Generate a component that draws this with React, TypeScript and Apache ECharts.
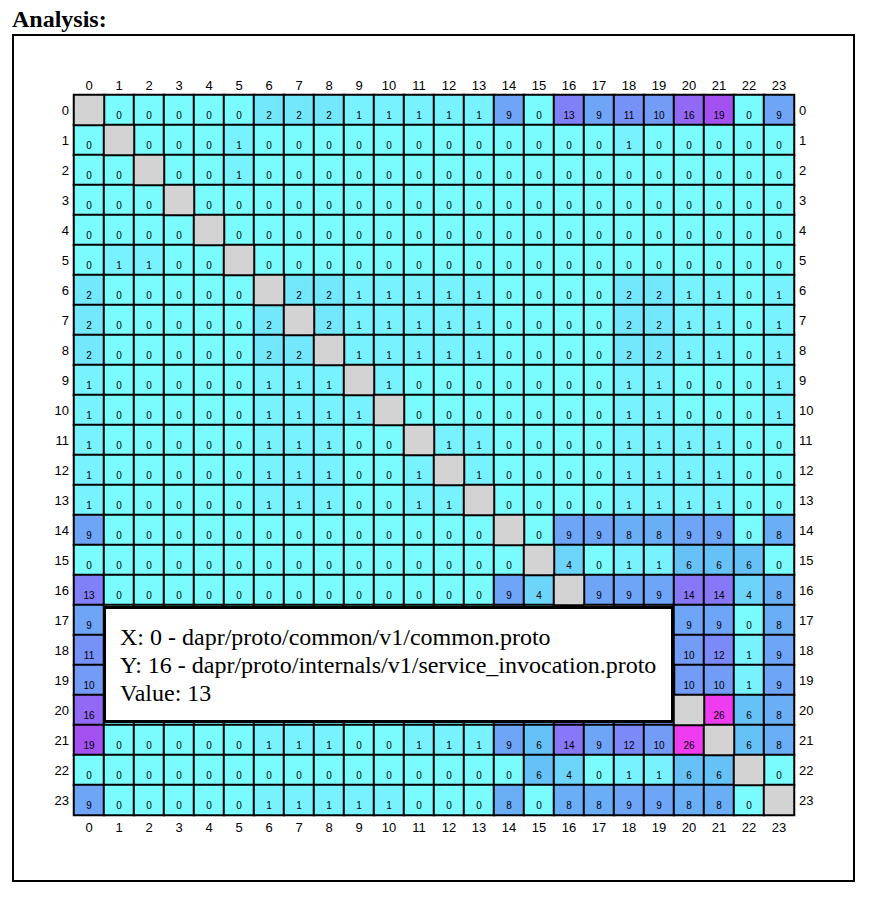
import React, { useEffect, useRef } from "react";
import * as echarts from "echarts";

const categories: string[] = Array.from({ length: 24 }, (_, i) => String(i));

// rows = Y index (top to bottom), columns = X index; null = diagonal (self)
const matrix: (number | null)[][] = [
  [null, 0, 0, 0, 0, 0, 2, 2, 2, 1, 1, 1, 1, 1, 9, 0, 13, 9, 11, 10, 16, 19, 0, 9],
  [0, null, 0, 0, 0, 1, 0, 0, 0, 0, 0, 0, 0, 0, 0, 0, 0, 0, 1, 0, 0, 0, 0, 0],
  [0, 0, null, 0, 0, 1, 0, 0, 0, 0, 0, 0, 0, 0, 0, 0, 0, 0, 0, 0, 0, 0, 0, 0],
  [0, 0, 0, null, 0, 0, 0, 0, 0, 0, 0, 0, 0, 0, 0, 0, 0, 0, 0, 0, 0, 0, 0, 0],
  [0, 0, 0, 0, null, 0, 0, 0, 0, 0, 0, 0, 0, 0, 0, 0, 0, 0, 0, 0, 0, 0, 0, 0],
  [0, 1, 1, 0, 0, null, 0, 0, 0, 0, 0, 0, 0, 0, 0, 0, 0, 0, 0, 0, 0, 0, 0, 0],
  [2, 0, 0, 0, 0, 0, null, 2, 2, 1, 1, 1, 1, 1, 0, 0, 0, 0, 2, 2, 1, 1, 0, 1],
  [2, 0, 0, 0, 0, 0, 2, null, 2, 1, 1, 1, 1, 1, 0, 0, 0, 0, 2, 2, 1, 1, 0, 1],
  [2, 0, 0, 0, 0, 0, 2, 2, null, 1, 1, 1, 1, 1, 0, 0, 0, 0, 2, 2, 1, 1, 0, 1],
  [1, 0, 0, 0, 0, 0, 1, 1, 1, null, 1, 0, 0, 0, 0, 0, 0, 0, 1, 1, 0, 0, 0, 1],
  [1, 0, 0, 0, 0, 0, 1, 1, 1, 1, null, 0, 0, 0, 0, 0, 0, 0, 1, 1, 0, 0, 0, 1],
  [1, 0, 0, 0, 0, 0, 1, 1, 1, 0, 0, null, 1, 1, 0, 0, 0, 0, 1, 1, 1, 1, 0, 0],
  [1, 0, 0, 0, 0, 0, 1, 1, 1, 0, 0, 1, null, 1, 0, 0, 0, 0, 1, 1, 1, 1, 0, 0],
  [1, 0, 0, 0, 0, 0, 1, 1, 1, 0, 0, 1, 1, null, 0, 0, 0, 0, 1, 1, 1, 1, 0, 0],
  [9, 0, 0, 0, 0, 0, 0, 0, 0, 0, 0, 0, 0, 0, null, 0, 9, 9, 8, 8, 9, 9, 0, 8],
  [0, 0, 0, 0, 0, 0, 0, 0, 0, 0, 0, 0, 0, 0, 0, null, 4, 0, 1, 1, 6, 6, 6, 0],
  [13, 0, 0, 0, 0, 0, 0, 0, 0, 0, 0, 0, 0, 0, 9, 4, null, 9, 9, 9, 14, 14, 4, 8],
  [9, 0, 0, 0, 0, 0, 0, 0, 0, 0, 0, 0, 0, 0, 9, 0, 9, null, 9, 9, 9, 9, 0, 8],
  [11, 1, 0, 0, 0, 0, 2, 2, 2, 1, 1, 1, 1, 1, 8, 1, 9, 9, null, 10, 10, 12, 1, 9],
  [10, 0, 0, 0, 0, 0, 2, 2, 2, 1, 1, 1, 1, 1, 8, 1, 9, 9, 10, null, 10, 10, 1, 9],
  [16, 0, 0, 0, 0, 0, 1, 1, 1, 0, 0, 1, 1, 1, 9, 6, 14, 9, 10, 10, null, 26, 6, 8],
  [19, 0, 0, 0, 0, 0, 1, 1, 1, 0, 0, 1, 1, 1, 9, 6, 14, 9, 12, 10, 26, null, 6, 8],
  [0, 0, 0, 0, 0, 0, 0, 0, 0, 0, 0, 0, 0, 0, 0, 6, 4, 0, 1, 1, 6, 6, null, 0],
  [9, 0, 0, 0, 0, 0, 1, 1, 1, 1, 1, 0, 0, 0, 8, 0, 8, 8, 9, 9, 8, 8, 0, null],
];

const colorStops = ["#7afcff", "#64bcf6", "#8080f8", "#a64ef0", "#f03cf0"];

const tooltipLines = [
  "X: 0 - dapr/proto/common/v1/common.proto",
  "Y: 16 - dapr/proto/internals/v1/service_invocation.proto",
  "Value: 13",
];

export default function App() {
  const ref = useRef<HTMLDivElement>(null);

  useEffect(() => {
    if (!ref.current) return;
    const chart = echarts.init(ref.current, undefined, { renderer: "svg" });

    const cells: [number, number, number][] = [];
    const diag: [number, number, number][] = [];
    matrix.forEach((row, y) =>
      row.forEach((v, x) => {
        if (v === null) diag.push([x, y, 0]);
        else cells.push([x, y, v]);
      })
    );

    const axisLabel = {
      color: "#000",
      fontSize: 13,
      fontFamily: "Liberation Sans, Arial, sans-serif",
    };
    const common = {
      type: "category" as const,
      data: categories,
      axisLine: { show: false },
      axisTick: { show: false },
      splitArea: { show: false },
      splitLine: { show: false },
    };

    chart.setOption({
      animation: false,
      grid: { left: 60, top: 59, width: 720, height: 720 },
      xAxis: [
        { ...common, position: "bottom", axisLabel: { ...axisLabel, margin: 6 } },
        { ...common, position: "top", axisLabel: { ...axisLabel, margin: 3 } },
      ],
      yAxis: [
        { ...common, inverse: true, position: "left", axisLabel: { ...axisLabel, margin: 5 } },
        { ...common, inverse: true, position: "right", axisLabel: { ...axisLabel, margin: 5 } },
      ],
      visualMap: [
        {
          show: false,
          type: "continuous",
          min: 0,
          max: 26,
          seriesIndex: 0,
          inRange: { color: colorStops },
        },
        {
          show: false,
          type: "continuous",
          min: 0,
          max: 1,
          seriesIndex: 1,
          inRange: { color: ["#d3d3d3", "#d3d3d3"] },
        },
      ],
      series: [
        {
          type: "heatmap",
          xAxisIndex: 0,
          yAxisIndex: 0,
          data: cells,
          itemStyle: { borderColor: "#000", borderWidth: 2 },
          label: {
            show: true,
            color: "#000",
            fontSize: 10,
            fontFamily: "Liberation Sans, Arial, sans-serif",
            offset: [0, 5],
            formatter: (p: any) => String(p.value[2]),
          },
          emphasis: { disabled: true },
        },
        {
          type: "heatmap",
          xAxisIndex: 0,
          yAxisIndex: 0,
          data: diag,
          itemStyle: { borderColor: "#000", borderWidth: 2 },
          label: { show: false },
          emphasis: { disabled: true },
        },
      ],
      graphic: [
        {
          type: "rect",
          shape: { x: 90.5, y: 571.5, width: 568, height: 114 },
          style: { fill: "#fff", stroke: "#000", lineWidth: 3 },
          z: 100,
        },
        ...tooltipLines.map((t, i) => ({
          type: "text",
          x: 106,
          y: 601 + i * 28,
          z: 101,
          style: {
            text: t,
            fill: "#000",
            fontSize: 24,
            fontFamily: "Liberation Serif, Times New Roman, serif",
            verticalAlign: "middle",
            align: "left",
          },
        })),
      ],
    });

    return () => chart.dispose();
  }, []);

  return (
    <div style={{ position: "absolute", left: 0, top: 0, width: 872, height: 898 }}>
      <div
        style={{
          position: "absolute",
          left: 12,
          top: 5,
          fontFamily: "Liberation Serif, Times New Roman, serif",
          fontWeight: "bold",
          fontSize: 24,
          lineHeight: "28px",
          color: "#000",
        }}
      >
        Analysis:
      </div>
      <div
        style={{
          position: "absolute",
          left: 12,
          top: 34,
          width: 843,
          height: 848,
          border: "2px solid #000",
          boxSizing: "border-box",
        }}
      />
      <div
        ref={ref}
        style={{ position: "absolute", left: 14, top: 36, width: 839, height: 844 }}
      />
    </div>
  );
}
